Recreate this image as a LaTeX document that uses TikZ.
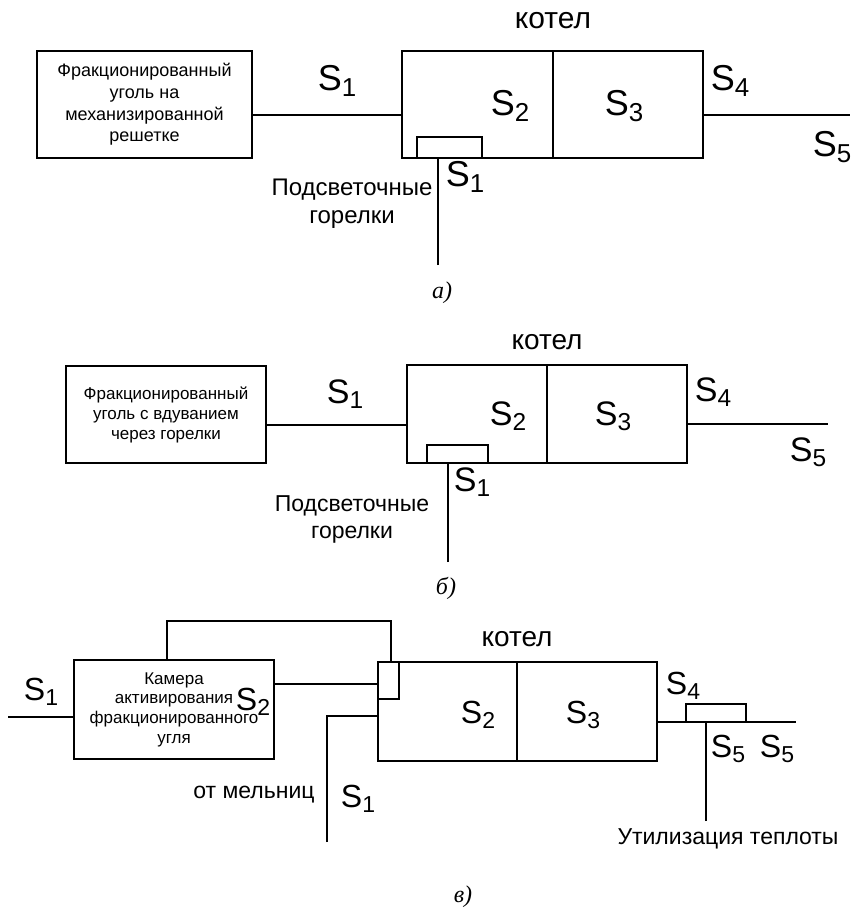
\documentclass[tikz,border=0pt]{standalone}
\usepackage{fontspec}
\setmainfont{Liberation Sans}
\newfontfamily\capfont{Liberation Serif}
\usepackage{graphicx}
\usetikzlibrary{positioning}
\newcommand{\Sn}[1]{S\raisebox{-0.16em}{\scalebox{0.72}{#1}}}

\begin{document}
\begin{tikzpicture}[x=1pt,y=-1pt,line width=1.6pt,
   every node/.style={inner sep=0pt,outer sep=0pt},
   box/.style={draw,align=center},
   txt/.style 2 args={font=\fontsize{#1}{#2}\selectfont},
   lab/.style={font=\fontsize{#1}{#1}\selectfont},
   figcap/.style={font=\capfont\itshape\fontsize{24}{24}\selectfont}]
  \useasboundingbox (0,0) rectangle (851,909);
  % a)
  \node[box,txt={18}{21.6},minimum width=215pt,minimum height=107pt] (Fa) at (144.5,104.5)
    {Фракционированный\\уголь на\\механизированной\\решетке};
  \node[box,minimum width=151pt,minimum height=107pt] (KaL) at (477.5,104.5) {};
  \node[box,minimum width=150pt,minimum height=107pt] (KaR) at (628,104.5) {};
  \node[box,minimum width=65pt,minimum height=21pt] (Ba) at (449.5,147.5) {};
  \coordinate (ya) at (0,115);
  \coordinate (outa) at (850,115);
  \coordinate (pa) at (438,265);
  \draw (Fa.east |- ya) -- (KaL.west |- ya);
  \draw (KaR.east |- outa) -- (outa);
  \draw (pa) -- (pa |- Ba.south);
  \node[lab=30] at (553,21) {котел};
  \node[lab=36] at (337,81) {\Sn1};
  \node[lab=36] at (510,106) {\Sn2};
  \node[lab=36] at (624,106) {\Sn3};
  \node[lab=36] at (730,81) {\Sn4};
  \node[lab=36] at (832,147) {\Sn5};
  \node[lab=36] at (465,177) {\Sn1};
  \node[align=center,txt={24}{28}] at (352,204) {Подсветочные\\горелки};
  \node[figcap] at (442,293) {а)};
  % b)
  \node[box,txt={17}{20},minimum width=200pt,minimum height=97pt] (Fb) at (166,414.5)
    {Фракционированный\\уголь с вдуванием\\через горелки};
  \node[box,minimum width=140pt,minimum height=98pt] (KbL) at (477,414) {};
  \node[box,minimum width=140pt,minimum height=98pt] (KbR) at (617,414) {};
  \node[box,minimum width=61pt,minimum height=18pt] (Bb) at (457.5,454) {};
  \coordinate (yb) at (0,425);
  \coordinate (outb) at (828,424);
  \coordinate (pb) at (448,562);
  \draw (Fb.east |- yb) -- (KbL.west |- yb);
  \draw (KbR.east |- outb) -- (outb);
  \draw (pb) -- (pb |- Bb.south);
  \node[lab=28] at (547,342) {котел};
  \node[lab=34] at (345,394) {\Sn1};
  \node[lab=34] at (508,416) {\Sn2};
  \node[lab=34] at (613,416) {\Sn3};
  \node[lab=34] at (713,392) {\Sn4};
  \node[lab=34] at (808,452) {\Sn5};
  \node[lab=34] at (472,482) {\Sn1};
  \node[align=center,txt={23}{27}] at (352,519) {Подсветочные\\горелки};
  \node[figcap] at (446,588) {б)};
  % в)
  \node[box,txt={17}{19.7},minimum width=200pt,minimum height=99pt] (Cam) at (174,709.5)
    {Камера\\активирования\\фракционированного\\угля};
  \node[box,minimum width=139pt,minimum height=99pt] (KcL) at (447.5,711.5) {};
  \node[box,minimum width=140pt,minimum height=99pt] (KcR) at (587,711.5) {};
  \node[box,minimum width=21pt,minimum height=37pt] (Vc) at (388.5,680.5) {};
  \node[box,minimum width=60pt,minimum height=18pt] (Hc) at (716,713) {};
  \coordinate (lpl) at (167,621);
  \coordinate (lpr) at (391,621);
  \coordinate (inc) at (8,717);
  \coordinate (yc) at (0,684);
  \coordinate (mill) at (327,842);
  \coordinate (ym) at (0,716);
  \coordinate (outc) at (796,722);
  \coordinate (pc) at (706,821);
  \draw (Cam.north -| lpl) -- (lpl) -- (lpr) -- (lpr |- KcL.north);
  \draw (inc) -- (Cam.west |- inc);
  \draw (Cam.east |- yc) -- (KcL.west |- yc);
  \draw (mill) |- (KcL.west |- ym);
  \draw (KcR.east |- outc) -- (outc);
  \draw (pc) -- (pc |- Hc.south);
  \node[lab=28] at (517,639) {котел};
  \node[lab=32] at (41,692) {\Sn1};
  \node[lab=32] at (253,702) {\Sn2};
  \node[lab=32] at (478,715) {\Sn2};
  \node[lab=32] at (583,715) {\Sn3};
  \node[lab=32] at (683,686) {\Sn4};
  \node[lab=32] at (728,749) {\Sn5};
  \node[lab=32] at (777,749) {\Sn5};
  \node[lab=32] at (358,799) {\Sn1};
  \node[txt={23}{23}] at (254,795) {от мельниц};
  \node[txt={23}{23}] at (728,839) {Утилизация теплоты};
  \node[figcap] at (463,897) {в)};
\end{tikzpicture}
\end{document}
